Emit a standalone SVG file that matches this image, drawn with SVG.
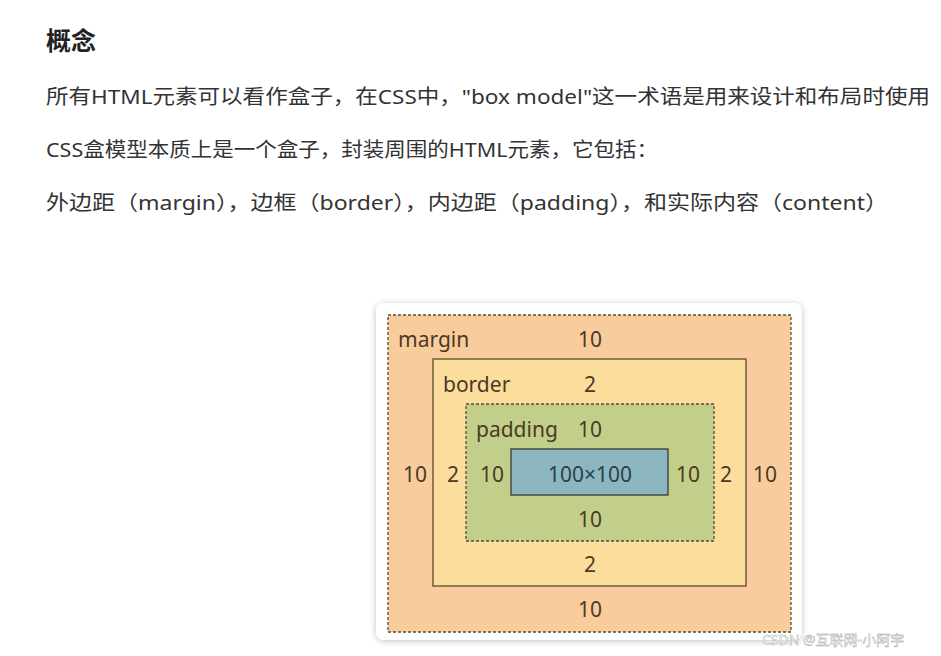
<svg xmlns="http://www.w3.org/2000/svg" width="941" height="656" viewBox="0 0 941 656">
<style>
.t{font-family:"Noto Sans","Noto Sans CJK SC",sans-serif;font-size:20px;fill:#333}
.b{font-family:"Noto Sans","Noto Sans CJK SC",sans-serif;font-size:21px;fill:#4a3a25}
.c{text-anchor:middle}
.dash{stroke:#5a4a35;stroke-width:1.3;stroke-dasharray:3 2}
</style>
<defs><filter id="sh" x="-10%" y="-10%" width="120%" height="120%"><feDropShadow dx="0" dy="1" stdDeviation="3" flood-color="#000" flood-opacity="0.25"/></filter></defs>
<rect width="941" height="656" fill="#fff"/>
<text x="46" y="50" style="font-family:'Noto Sans CJK SC',sans-serif;font-size:25px;font-weight:bold;fill:#222">概念</text>
<text class="t" x="46" y="104" textLength="884" lengthAdjust="spacingAndGlyphs">所有HTML元素可以看作盒子，在CSS中，"box model"这一术语是用来设计和布局时使用</text>
<text class="t" x="46" y="157" textLength="612" lengthAdjust="spacingAndGlyphs">CSS盒模型本质上是一个盒子，封装周围的HTML元素，它包括：</text>
<text class="t" x="46" y="210" textLength="842" lengthAdjust="spacingAndGlyphs">外边距（margin），边框（border），内边距（padding），和实际内容（content）</text>
<rect x="376" y="303" width="426" height="337" rx="8" fill="#fff" filter="url(#sh)"/>
<g id="margin"><rect x="388" y="315" width="403" height="317" fill="#f9cc9d" class="dash"/>
<text class="b" x="398" y="347">margin</text><text class="b c" x="590" y="347">10</text>
<text class="b c" x="415" y="482">10</text><text class="b c" x="765" y="482">10</text><text class="b c" x="590" y="617">10</text></g>
<g id="border"><rect x="433" y="359" width="313" height="227" fill="#fddd9b" stroke="#5a4a35" stroke-width="1.3"/>
<text class="b" x="443" y="392">border</text><text class="b c" x="590" y="392">2</text>
<text class="b c" x="453" y="482">2</text><text class="b c" x="726" y="482">2</text><text class="b c" x="590" y="572">2</text></g>
<g id="padding"><rect x="466" y="404" width="248" height="137" fill="#c2cf8a" class="dash"/>
<text class="b" x="476" y="437">padding</text><text class="b c" x="590" y="437">10</text>
<text class="b c" x="492" y="482">10</text><text class="b c" x="688" y="482">10</text><text class="b c" x="590" y="527">10</text></g>
<g id="content"><rect x="511" y="449" width="157" height="46" fill="#8cb6c0" stroke="#3a3a3a" stroke-width="1.3"/>
<text class="b c" x="590" y="482" style="fill:#2e3e48">100×100</text></g>
<g id="connectors"/>
<text x="762" y="645" style="font-family:'Noto Sans','Noto Sans CJK SC',sans-serif;font-size:14px;fill:#fff;stroke:#999;stroke-width:0.4">CSDN @互联网-小阿宇</text>
</svg>
